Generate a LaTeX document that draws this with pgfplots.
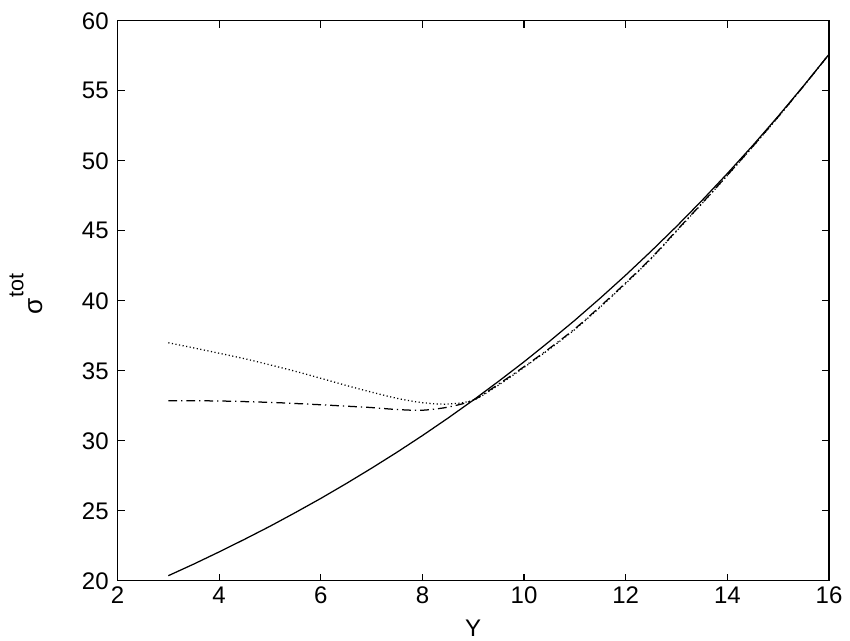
\documentclass[border=0pt]{standalone}
\usepackage{fontspec}
\setmainfont{Liberation Sans}
\usepackage{pgfplots}
\pgfplotsset{compat=1.18}
\usetikzlibrary{calc}

\begin{document}
\begin{tikzpicture}
\begin{axis}[
    scale only axis, width=284.6pt, height=224pt,
    xmin=2, xmax=16, ymin=20, ymax=60,
    xtick={2,4,...,16}, ytick={20,25,...,60},
    tick align=inside, major tick length=2.8pt,
    tick style={black, line width=0.5pt},
    axis line style={line width=0.5pt},
    /pgf/number format/assume math mode=true,
    tick label style={font=\fontsize{9.6}{11}\selectfont},
    xticklabel style={yshift=1pt},
    label style={font=\fontsize{9.6}{11}\selectfont},
    xlabel={Y},
    xlabel style={at={(axis description cs:0.5,-0.085)}, anchor=center},
    ylabel={{\fontsize{10.5}{12}\selectfont σ}\raisebox{7.5pt}{\fontsize{8.6}{10}\selectfont tot}},
    ylabel style={at={(axis description cs:-0.106,0.512)}, anchor=base},
  ]
  \coordinate (ll) at (rel axis cs:0,0);
  \coordinate (ur) at (rel axis cs:1,1);
  % solid
  \addplot[black, line width=0.5pt] coordinates {
    (3,20.36) (3.5,21.19) (4,22.06) (4.5,22.96) (5,23.89) (5.5,24.87)
    (6,25.88) (6.5,26.94) (7,28.04) (7.5,29.18) (8,30.37) (8.5,31.61)
    (9,32.90) (9.5,34.25) (10,35.64) (10.5,37.10) (11,38.61) (11.5,40.19)
    (12,41.83) (12.5,43.54) (13,45.31) (13.5,47.16) (14,49.09) (14.5,51.09)
    (15,53.18) (15.5,55.35) (16,57.60)};
  % dotted
  \addplot[black, line width=0.5pt, dash pattern=on 0.45pt off 1.0pt, smooth] coordinates {
    (3,37.00) (3.5,36.63) (4,36.25) (4.5,35.86) (5,35.42) (5.5,34.96)
    (6,34.46) (6.5,33.95) (7,33.47) (7.5,33.03) (8,32.72) (8.5,32.62)
    (9,32.90) (9.5,33.98) (10,35.24) (10.5,36.55) (11,37.95) (11.5,39.55)
    (12,41.23) (12.5,43.0) (13,44.97) (13.5,46.94) (14,48.95) (14.5,51.0)
    (15,53.12) (15.5,55.33) (16,57.60)};
  % dash-dot
  \addplot[black, line width=0.5pt, dash pattern=on 3.5pt off 1.6pt on 0.5pt off 1.6pt, smooth] coordinates {
    (3,32.86) (4,32.84) (5,32.74) (5.5,32.66) (6,32.57) (6.5,32.47) (7,32.37)
    (7.5,32.23) (8,32.18) (8.5,32.40) (9,32.90) (9.5,34.05) (10,35.29)
    (10.5,36.60) (11,38.00) (11.5,39.60) (12,41.28) (12.5,43.04) (13,45.01)
    (13.5,46.96) (14,48.97) (14.5,51.02) (15,53.14) (15.5,55.34) (16,57.60)};
\end{axis}
\pgfresetboundingbox
\path ($(ll)+(-47pt,-24.1pt)$) rectangle ($(ur)+(8.4pt,8.3pt)$);
\end{tikzpicture}
\end{document}
